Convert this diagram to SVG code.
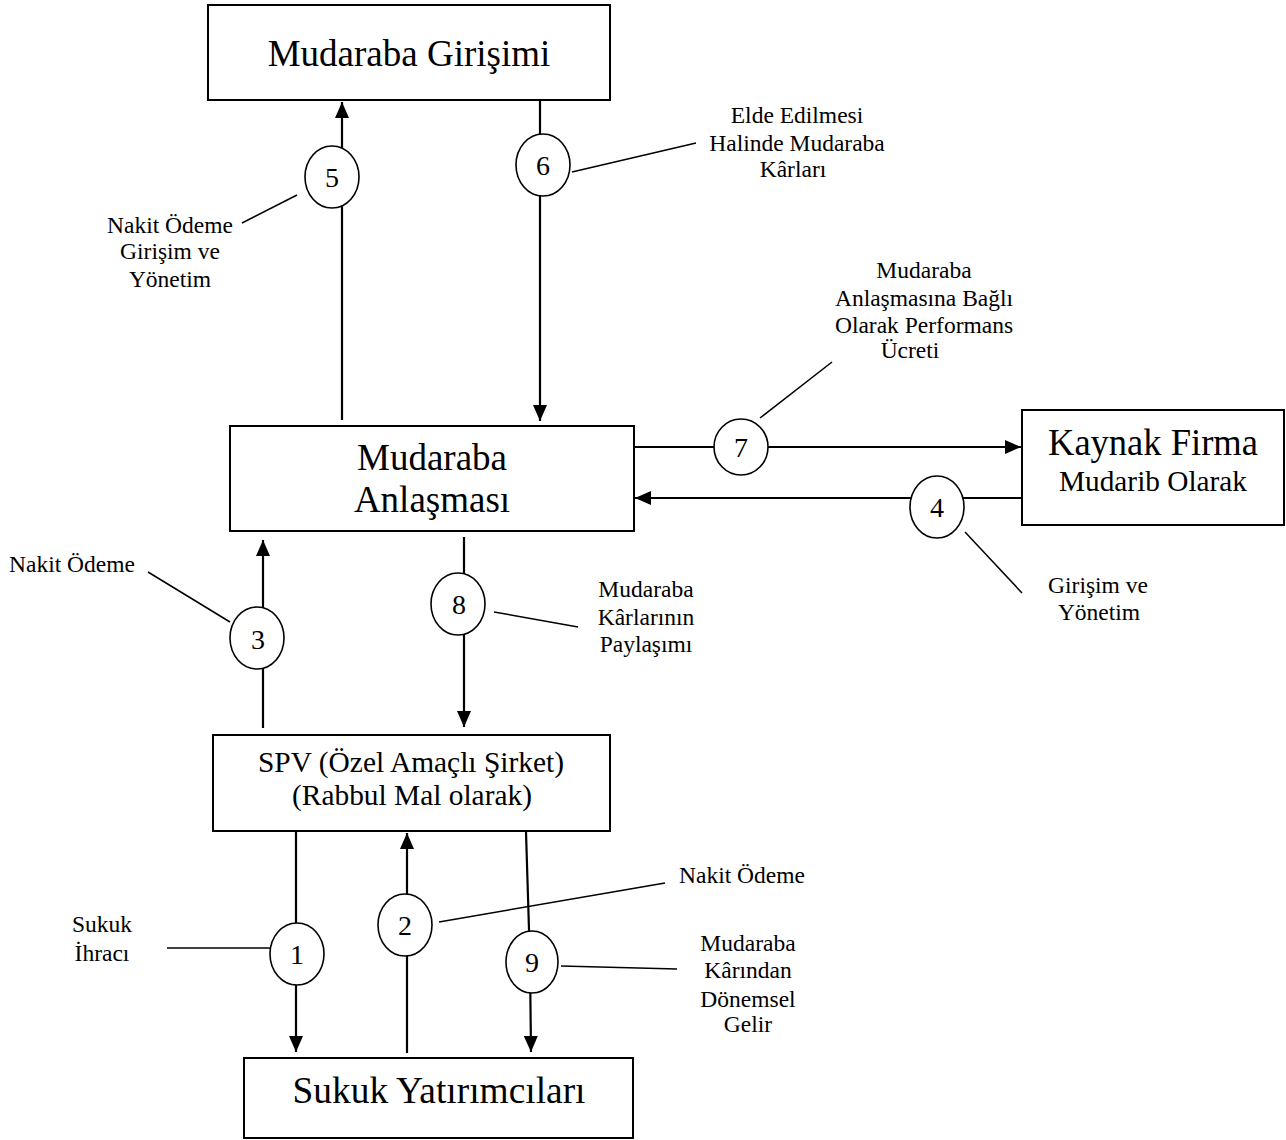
<svg xmlns="http://www.w3.org/2000/svg" width="1286" height="1140" viewBox="0 0 1286 1140" font-family="Liberation Serif, serif">
  <style>
    .box { fill: #fff; stroke: #000; stroke-width: 2; }
    .flow { fill: none; stroke: #000; stroke-width: 2.2; }
    .lead { fill: none; stroke: #000; stroke-width: 1.5; }
    .step { fill: #fff; stroke: #000; stroke-width: 1.6; }
    text { font-family: 'Liberation Serif', serif; fill: #000; text-anchor: middle; }
    .big { font-size: 37px; }
    .mid { font-size: 29px; }
    .num { font-size: 28px; }
    .lbl { font-size: 23.5px; }
  </style>
  <defs>
    <marker id="arrow" markerUnits="userSpaceOnUse" markerWidth="17" markerHeight="14" refX="16" refY="7" orient="auto">
      <path d="M0,0 L16,7 L0,14 z" fill="#000"/>
    </marker>
  </defs>

  <!-- flows between parties -->
  <g id="connectors">
    <line class="flow" x1="342" y1="420" x2="342" y2="102" marker-end="url(#arrow)"/>
    <line class="flow" x1="540" y1="101" x2="540" y2="421" marker-end="url(#arrow)"/>
    <line class="flow" x1="634" y1="447" x2="1021" y2="447" marker-end="url(#arrow)"/>
    <line class="flow" x1="1022" y1="498" x2="635" y2="498" marker-end="url(#arrow)"/>
    <line class="flow" x1="263" y1="728" x2="263" y2="540" marker-end="url(#arrow)"/>
    <line class="flow" x1="464" y1="537" x2="464" y2="727" marker-end="url(#arrow)"/>
    <line class="flow" x1="296" y1="832" x2="296" y2="1052" marker-end="url(#arrow)"/>
    <line class="flow" x1="407" y1="1053" x2="407" y2="833" marker-end="url(#arrow)"/>
    <path class="flow" d="M526,832 L530,962 L531,1052" marker-end="url(#arrow)"/>

    <!-- leader lines from step markers to their captions -->
    <line class="lead" x1="297" y1="195" x2="242" y2="223"/>
    <line class="lead" x1="572" y1="172" x2="696" y2="143"/>
    <line class="lead" x1="760" y1="418" x2="832" y2="362"/>
    <line class="lead" x1="965" y1="532" x2="1022" y2="593"/>
    <line class="lead" x1="148" y1="572" x2="230" y2="622"/>
    <line class="lead" x1="494" y1="612" x2="578" y2="627"/>
    <line class="lead" x1="167" y1="948" x2="270" y2="948"/>
    <line class="lead" x1="439" y1="922" x2="665" y2="883"/>
    <line class="lead" x1="561" y1="966" x2="677" y2="969"/>
  </g>

  <!-- parties -->
  <g id="mudaraba-girisimi">
    <rect class="box" x="208" y="5" width="402" height="95"/>
    <text class="big" x="409" y="66">Mudaraba Girişimi</text>
  </g>
  <g id="mudaraba-anlasmasi">
    <rect class="box" x="230" y="426" width="404" height="105"/>
    <text class="big" x="432" y="470">Mudaraba</text>
    <text class="big" x="432" y="512">Anlaşması</text>
  </g>
  <g id="kaynak-firma">
    <rect class="box" x="1022" y="410" width="262" height="115"/>
    <text class="big" x="1153" y="455" textLength="210" lengthAdjust="spacingAndGlyphs">Kaynak Firma</text>
    <text class="mid" x="1153" y="491" textLength="188" lengthAdjust="spacingAndGlyphs">Mudarib Olarak</text>
  </g>
  <g id="spv">
    <rect class="box" x="213" y="735" width="397" height="96"/>
    <text class="mid" x="411" y="772" textLength="306" lengthAdjust="spacingAndGlyphs">SPV (Özel Amaçlı Şirket)</text>
    <text class="mid" x="412" y="805" textLength="240" lengthAdjust="spacingAndGlyphs">(Rabbul Mal olarak)</text>
  </g>
  <g id="sukuk-yatirimcilari">
    <rect class="box" x="244" y="1058" width="389" height="80"/>
    <text class="big" x="439" y="1103" textLength="293" lengthAdjust="spacingAndGlyphs">Sukuk Yatırımcıları</text>
  </g>

  <!-- numbered steps -->
  <g id="step-1"><ellipse class="step" cx="297" cy="954" rx="27" ry="31"/><text class="num" x="297" y="964">1</text></g>
  <g id="step-2"><ellipse class="step" cx="405" cy="925" rx="27" ry="31"/><text class="num" x="405" y="935">2</text></g>
  <g id="step-3"><ellipse class="step" cx="257" cy="638" rx="27" ry="31"/><text class="num" x="258" y="649">3</text></g>
  <g id="step-4"><ellipse class="step" cx="937" cy="507" rx="27" ry="31"/><text class="num" x="937" y="517">4</text></g>
  <g id="step-5"><ellipse class="step" cx="332" cy="177" rx="27" ry="31"/><text class="num" x="332" y="187">5</text></g>
  <g id="step-6"><ellipse class="step" cx="543" cy="165" rx="27" ry="31"/><text class="num" x="543" y="175">6</text></g>
  <g id="step-7"><ellipse class="step" cx="741" cy="447" rx="27" ry="28"/><text class="num" x="741" y="457">7</text></g>
  <g id="step-8"><ellipse class="step" cx="458" cy="604" rx="27" ry="31"/><text class="num" x="459" y="614">8</text></g>
  <g id="step-9"><ellipse class="step" cx="532" cy="962" rx="26" ry="31"/><text class="num" x="532" y="972">9</text></g>

  <!-- captions -->
  <g id="captions">
    <text class="lbl" x="170" y="233">Nakit Ödeme</text>
    <text class="lbl" x="170" y="259">Girişim ve</text>
    <text class="lbl" x="170" y="287">Yönetim</text>

    <text class="lbl" x="797" y="123">Elde Edilmesi</text>
    <text class="lbl" x="797" y="151">Halinde Mudaraba</text>
    <text class="lbl" x="793" y="177">Kârları</text>

    <text class="lbl" x="924" y="278">Mudaraba</text>
    <text class="lbl" x="924" y="306">Anlaşmasına Bağlı</text>
    <text class="lbl" x="924" y="333">Olarak Performans</text>
    <text class="lbl" x="910" y="358">Ücreti</text>

    <text class="lbl" x="1098" y="593">Girişim ve</text>
    <text class="lbl" x="1099" y="620">Yönetim</text>

    <text class="lbl" x="72" y="572">Nakit Ödeme</text>

    <text class="lbl" x="646" y="597">Mudaraba</text>
    <text class="lbl" x="646" y="625">Kârlarının</text>
    <text class="lbl" x="646" y="652">Paylaşımı</text>

    <text class="lbl" x="102" y="932">Sukuk</text>
    <text class="lbl" x="102" y="961">İhracı</text>

    <text class="lbl" x="742" y="883">Nakit Ödeme</text>

    <text class="lbl" x="748" y="951">Mudaraba</text>
    <text class="lbl" x="748" y="978">Kârından</text>
    <text class="lbl" x="748" y="1007">Dönemsel</text>
    <text class="lbl" x="748" y="1032">Gelir</text>
  </g>
</svg>
